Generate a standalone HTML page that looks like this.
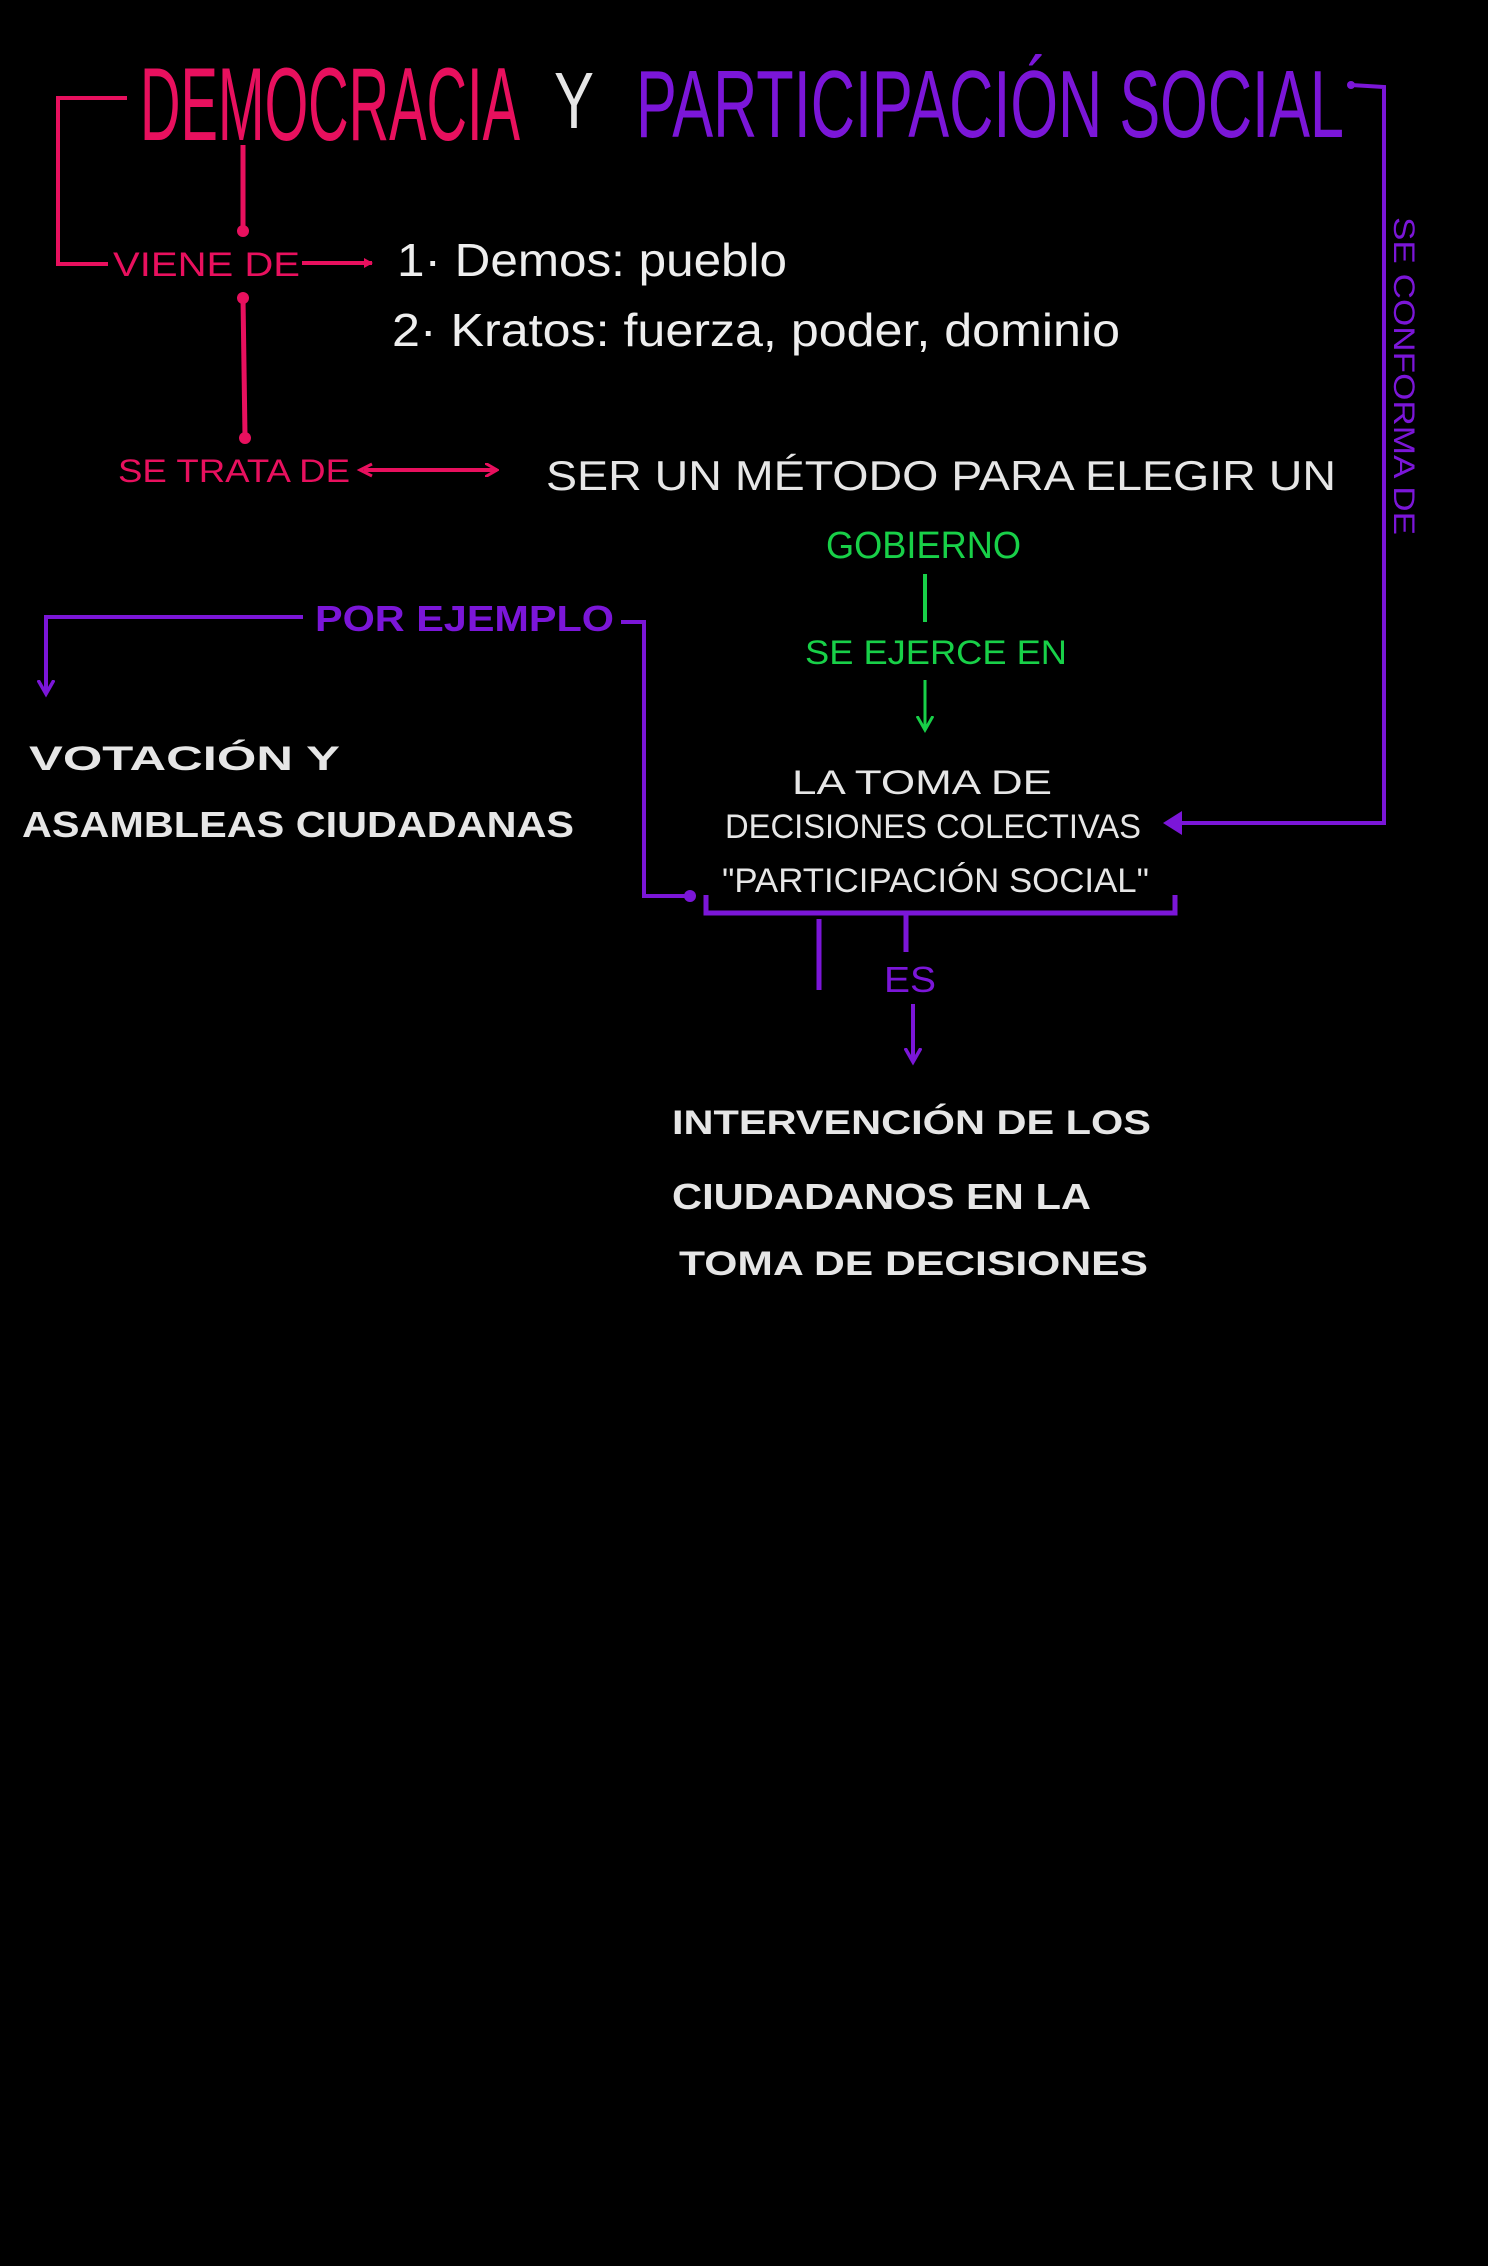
<!DOCTYPE html>
<html><head><meta charset="utf-8"><style>
html,body{margin:0;padding:0;background:#000;}
svg{display:block;}
text{font-family:"Liberation Sans",sans-serif;}
</style></head><body>
<svg width="1488" height="2266" viewBox="0 0 1488 2266" xmlns="http://www.w3.org/2000/svg">
<rect width="1488" height="2266" fill="#000"/>
<defs>
<marker id="ap" markerWidth="10" markerHeight="10" refX="8" refY="5" orient="auto" markerUnits="userSpaceOnUse"><path d="M0,0 L9,5 L0,10 Z" fill="#e8105e"/></marker>
<marker id="ap2" markerWidth="14" markerHeight="14" refX="12" refY="7" orient="auto" markerUnits="userSpaceOnUse"><path d="M0,0 L12,7 L0,14" fill="none" stroke="#e8105e" stroke-width="3"/></marker>
<marker id="au" markerWidth="18" markerHeight="18" refX="14" refY="9" orient="auto" markerUnits="userSpaceOnUse"><path d="M0,1 L14,9 L0,17" fill="none" stroke="#7b16d8" stroke-width="3.5"/></marker>
<marker id="aug" markerWidth="18" markerHeight="18" refX="14" refY="9" orient="auto" markerUnits="userSpaceOnUse"><path d="M0,1 L14,9 L0,17" fill="none" stroke="#18d048" stroke-width="3"/></marker>
</defs>

<!-- Title -->
<text x="140" y="140" font-size="104" fill="#e8105e" textLength="380" lengthAdjust="spacingAndGlyphs">DEMOCRACIA</text>
<text x="554" y="128" font-size="80" fill="#e6e6e6" textLength="40" lengthAdjust="spacingAndGlyphs">Y</text>
<text x="636" y="137" font-size="96" fill="#7b16d8" textLength="708" lengthAdjust="spacingAndGlyphs">PARTICIPACIÓN SOCIAL</text>

<!-- left pink bracket -->
<polyline points="127,98 58,98 58,264 108,264" fill="none" stroke="#e8105e" stroke-width="4"/>
<line x1="243" y1="145" x2="243" y2="229" stroke="#e8105e" stroke-width="5"/>
<circle cx="243" cy="231" r="6" fill="#e8105e"/>
<circle cx="243" cy="298" r="6" fill="#e8105e"/>
<line x1="243" y1="298" x2="245" y2="436" stroke="#e8105e" stroke-width="5"/>
<circle cx="245" cy="438" r="6" fill="#e8105e"/>

<text x="113" y="276" font-size="34" fill="#e8105e" textLength="187" lengthAdjust="spacingAndGlyphs">VIENE DE</text>
<line x1="302" y1="263" x2="372" y2="263" stroke="#e8105e" stroke-width="4" marker-end="url(#ap)"/>

<text x="397" y="276" font-size="46" fill="#eeeeee" textLength="390" lengthAdjust="spacingAndGlyphs">1· Demos:  pueblo</text>
<text x="392" y="346" font-size="46" fill="#eeeeee" textLength="728" lengthAdjust="spacingAndGlyphs">2· Kratos:  fuerza, poder, dominio</text>

<text x="118" y="482" font-size="32" fill="#e8105e" textLength="232" lengthAdjust="spacingAndGlyphs">SE TRATA DE</text>
<line x1="364" y1="470" x2="497" y2="470" stroke="#e8105e" stroke-width="4" marker-end="url(#ap2)"/>
<path d="M372,464 L360,470 L372,476" fill="none" stroke="#e8105e" stroke-width="3"/>

<text x="546" y="490" font-size="42" fill="#e6e6e6" textLength="790" lengthAdjust="spacingAndGlyphs">SER   UN MÉTODO  PARA   ELEGIR   UN</text>

<text x="826" y="558" font-size="38" fill="#18d048" textLength="195" lengthAdjust="spacingAndGlyphs">GOBIERNO</text>
<line x1="925" y1="574" x2="925" y2="622" stroke="#18d048" stroke-width="4"/>
<text x="805" y="664" font-size="34" fill="#18d048" textLength="262" lengthAdjust="spacingAndGlyphs">SE  EJERCE  EN</text>
<line x1="925" y1="680" x2="925" y2="730" stroke="#18d048" stroke-width="3" marker-end="url(#aug)"/>

<text x="792" y="794" font-size="34" fill="#e6e6e6" textLength="260" lengthAdjust="spacingAndGlyphs">LA  TOMA  DE</text>
<text x="725" y="838" font-size="34" fill="#e6e6e6" textLength="416" lengthAdjust="spacingAndGlyphs">DECISIONES  COLECTIVAS</text>
<text x="722" y="892" font-size="34" fill="#e6e6e6" textLength="427" lengthAdjust="spacingAndGlyphs">"PARTICIPACIÓN  SOCIAL"</text>

<!-- right purple connector -->
<polyline points="1351,85 1384,87 1384,823 1180,823" fill="none" stroke="#7b16d8" stroke-width="4"/>
<circle cx="1351" cy="85" r="4" fill="#7b16d8"/>
<path d="M1163,823 L1182,811 L1182,835 Z" fill="#7b16d8"/>
<text x="0" y="0" font-size="30" fill="#7b16d8" transform="translate(1394,217) rotate(90)" textLength="318" lengthAdjust="spacingAndGlyphs">SE  CONFORMA  DE</text>

<!-- por ejemplo -->
<text x="315" y="631" font-size="36" fill="#7b16d8" font-weight="bold" textLength="299" lengthAdjust="spacingAndGlyphs">POR  EJEMPLO</text>
<polyline points="303,617 46,617 46,694" fill="none" stroke="#7b16d8" stroke-width="4" marker-end="url(#au)"/>
<polyline points="621,622 644,622 644,896 690,896" fill="none" stroke="#7b16d8" stroke-width="4"/>
<circle cx="690" cy="896" r="6" fill="#7b16d8"/>

<text x="29" y="770" font-size="34" fill="#e6e6e6" font-weight="bold" textLength="311" lengthAdjust="spacingAndGlyphs">VOTACIÓN     Y</text>
<text x="22" y="837" font-size="36" fill="#e6e6e6" font-weight="bold" textLength="552" lengthAdjust="spacingAndGlyphs">ASAMBLEAS  CIUDADANAS</text>

<!-- bracket -->
<polyline points="706,895 706,913 1175,913 1175,895" fill="none" stroke="#7b16d8" stroke-width="5"/>
<line x1="819" y1="919" x2="819" y2="990" stroke="#7b16d8" stroke-width="5"/>
<line x1="906" y1="913" x2="906" y2="952" stroke="#7b16d8" stroke-width="5"/>
<text x="884" y="992" font-size="36" fill="#7b16d8" textLength="52" lengthAdjust="spacingAndGlyphs">ES</text>
<line x1="913" y1="1004" x2="913" y2="1062" stroke="#7b16d8" stroke-width="4" marker-end="url(#au)"/>

<text x="672" y="1134" font-size="34" fill="#e6e6e6" font-weight="bold" textLength="479" lengthAdjust="spacingAndGlyphs">INTERVENCIÓN  DE LOS</text>
<text x="672" y="1209" font-size="36" fill="#e6e6e6" font-weight="bold" textLength="419" lengthAdjust="spacingAndGlyphs">CIUDADANOS   EN   LA</text>
<text x="679" y="1275" font-size="34" fill="#e6e6e6" font-weight="bold" textLength="469" lengthAdjust="spacingAndGlyphs">TOMA  DE  DECISIONES</text>
</svg>
</body></html>
